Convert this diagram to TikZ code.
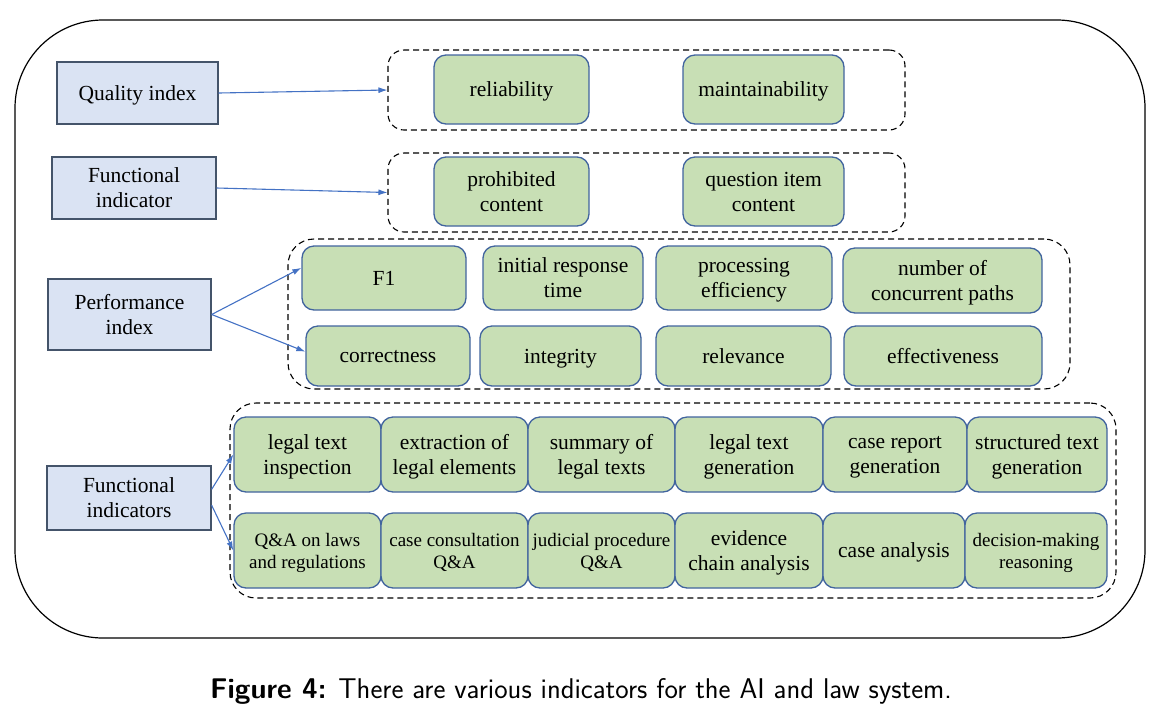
\documentclass[tikz,border=0pt]{standalone}
\usepackage{fontspec}
\setmainfont{Liberation Serif}
\usepackage{xcolor}
\usetikzlibrary{arrows.meta,shapes}
\definecolor{headfill}{HTML}{DAE3F3}
\definecolor{headline}{HTML}{44546A}
\definecolor{itemfill}{HTML}{C8DFB5}
\definecolor{itemline}{HTML}{41649E}
\definecolor{linkblue}{HTML}{4472C4}
\newcommand{\smalltxt}{\fontsize{19}{22}\selectfont}

\begin{document}
\begin{tikzpicture}[x=1pt, y=-1pt,
    every node/.style={font=\fontsize{21.5}{25}\selectfont, align=center, inner sep=0pt, text depth=0pt},
    head/.style={draw=headline, fill=headfill, line width=1.3pt},
    item/.style={draw=itemline, fill=itemfill, line width=1.3pt, rounded corners=12pt},
    small/.style={font=\smalltxt},
    group/.style={draw=black, dash pattern=on 6pt off 4pt, line width=1.1pt, rounded corners=16pt},
    link/.style={draw=linkblue, line width=1.1pt, -{Latex[length=9pt,width=6pt]}}]
  \useasboundingbox (0,0) rectangle (1156,705);
  \draw[line width=1.2pt, rounded corners=88pt] (15,20) rectangle (1145,638);

  % dashed groups
  \node[group, minimum width=517, minimum height=80] (grpqual) at (646.5,90) {};
  \node[group, minimum width=517, minimum height=79] (grpfunc) at (646.5,192.5) {};
  \node[group, rounded corners=26pt, minimum width=782, minimum height=150] (grpperf) at (679,314) {};
  \node[group, rounded corners=26pt, minimum width=886, minimum height=195] (grptask) at (673,500.5) {};

  % left headings
  \node[head, minimum width=161, minimum height=62] (qual) at (137.5,93) {Quality index};
  \node[head, minimum width=164, minimum height=62] (funcind) at (134,188) {Functional\\indicator};
  \node[head, minimum width=163, minimum height=71] (perf) at (129.5,314.5) {Performance\\index};
  \node[head, minimum width=164, minimum height=64] (funcinds) at (129,498) {Functional\\indicators};

  % quality and function
  \node[item, minimum width=155, minimum height=69] (reli) at (511.5,89.5) {reliability};
  \node[item, minimum width=161, minimum height=69] (maint) at (763.5,89.5) {maintainability};
  \node[item, minimum width=155, minimum height=69] (prohib) at (511.5,191.5) {prohibited\\content};
  \node[item, minimum width=161, minimum height=69] (quest) at (763.5,191.5) {question item\\content};

  % performance
  \node[item, minimum width=164, minimum height=64] (fone) at (384,278) {F1};
  \node[item, minimum width=160, minimum height=64] (initresp) at (563,278) {initial response\\time};
  \node[item, minimum width=176, minimum height=64] (proceff) at (744,278) {processing\\efficiency};
  \node[item, minimum width=199, minimum height=65] (concpath) at (942.5,280.5) {number of\\concurrent paths};
  \node[item, minimum width=164, minimum height=60] (correct) at (388,356) {correctness};
  \node[item, minimum width=161, minimum height=60] (integ) at (560.5,356) {integrity};
  \node[item, minimum width=175, minimum height=60] (relev) at (743.5,356) {relevance};
  \node[item, minimum width=198, minimum height=60] (effect) at (943,356) {effectiveness};

  % tasks
  \node[item, minimum width=147, minimum height=75] (inspect) at (307.5,454.5) {legal text\\inspection};
  \node[item, minimum width=147, minimum height=75] (extract) at (454.5,454.5) {extraction of\\legal elements};
  \node[item, minimum width=147, minimum height=75] (summ) at (601.5,454.5) {summary of\\legal texts};
  \node[item, minimum width=148, minimum height=75] (textgen) at (749,454.5) {legal text\\generation};
  \node[item, minimum width=144, minimum height=75] (casereport) at (895,454.5) {case report\\generation};
  \node[item, minimum width=140, minimum height=75] (structgen) at (1037,454.5) {structured text\\generation};
  \node[item, small, minimum width=147, minimum height=75] (qalaw) at (307.5,550.5) {Q\&A on laws\\and regulations};
  \node[item, small, minimum width=147, minimum height=75] (consult) at (454.5,550.5) {case consultation\\Q\&A};
  \node[item, small, minimum width=147, minimum height=75] (judic) at (601.5,550.5) {judicial procedure\\Q\&A};
  \node[item, minimum width=148, minimum height=75] (evid) at (749,550.5) {evidence\\chain analysis};
  \node[item, minimum width=142, minimum height=75] (caseana) at (894,550.5) {case analysis};
  \node[item, small, minimum width=142, minimum height=75] (decide) at (1036,550.5) {decision-making\\reasoning};

  % links
  \draw[link] (qual.east) -- (grpqual.west);
  \draw[link] (funcind.east) -- (grpfunc.west);
  \draw[link] (perf.east) -- (fone.173);
  \draw[link] (perf.east) -- (correct.177);
  \draw[link] (funcinds.6) -- (inspect.west);
  \draw[link] (funcinds.-5) -- (qalaw.west);

  \node[anchor=base, font=\sffamily\fontsize{28.5}{32}\selectfont] (caption) at (581,698)
    {\textbf{Figure 4:} There are various indicators for the AI and law system.};
\end{tikzpicture}
\end{document}
